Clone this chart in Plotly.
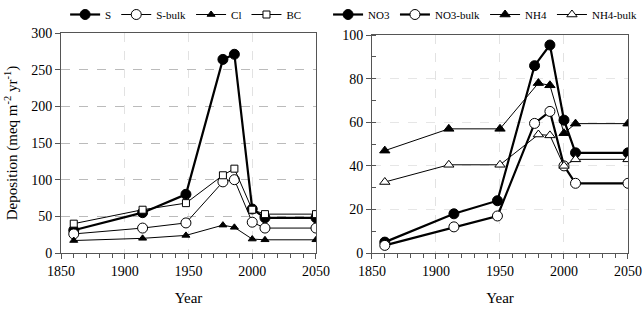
import plotly.graph_objects as go

# Left panel data
s_years = [1860, 1914, 1948, 1977, 1986, 2000, 2010, 2050]
S = [31, 55, 80, 264, 271, 60, 48, 48]
S_bulk = [26, 34, 41, 97, 100, 42, 34, 34]
Cl = [17, 20, 24, 38, 35, 19, 18, 18]
BC = [40, 59, 68, 106, 115, 59, 53, 53]

# Right panel data
no3_years = [1860, 1914, 1948, 1977, 1989, 2000, 2009, 2050]
NO3 = [5, 18, 24, 86, 95.5, 61, 46, 46]
NO3_bulk = [3.5, 12, 17, 59.5, 65, 40, 32, 32]
nh4_years = [1860, 1910, 1950, 1980, 1989, 2000, 2009, 2050]
NH4 = [47, 57, 57, 78, 77, 55, 59.4, 59.4]
NH4_bulk = [32.6, 40.5, 40.5, 54.4, 54, 40, 43, 43]

left_ticks = [0, 50, 100, 150, 200, 250, 300]
right_ticks = [0, 20, 40, 60, 80, 100]
x_ticks = [1850, 1900, 1950, 2000, 2050]

BLACK = "black"
fig = go.Figure()

def add(x, y, name, symbol, width, size, xa, ya, legend, fill=BLACK):
    fig.add_trace(go.Scatter(
        x=x, y=y, name=name, mode="lines+markers",
        line=dict(color=BLACK, width=width),
        marker=dict(symbol=symbol, size=size, color=fill,
                    line=dict(color=BLACK, width=1)),
        xaxis=xa, yaxis=ya, legend=legend))

add(s_years, S, "S", "circle", 2.2, 10, "x", "y", "legend")
add(s_years, S_bulk, "S-bulk", "circle", 1, 10, "x", "y", "legend", "white")
add(s_years, Cl, "Cl", "triangle-up", 1, 7, "x", "y", "legend")
add(s_years, BC, "BC", "square", 1, 7, "x", "y", "legend", "white")

add(no3_years, NO3, "NO3", "circle", 2.2, 10, "x2", "y2", "legend2")
add(no3_years, NO3_bulk, "NO3-bulk", "circle", 2.2, 10, "x2", "y2", "legend2", "white")
add(nh4_years, NH4, "NH4", "triangle-up", 1, 9, "x2", "y2", "legend2")
add(nh4_years, NH4_bulk, "NH4-bulk", "triangle-up", 1, 9, "x2", "y2", "legend2", "white")

FONT = "Liberation Serif"
axis_common = dict(showline=True, linecolor="#555", linewidth=1, mirror=True,
                   ticks="outside", ticklen=5, tickcolor="#555",
                   tickfont=dict(family=FONT, size=14, color="black"),
                   zeroline=False, automargin=False)

xcommon = dict(axis_common, range=[1850, 2050], tickvals=x_ticks,
               showgrid=True, gridcolor="#e2e2e2", griddash="dash", gridwidth=1,
               minor=dict(ticks="outside", ticklen=4, dtick=10, tick0=1850,
                          tickcolor="#555", showgrid=False),
               title=dict(text="Year", font=dict(family=FONT, size=15, color="black"),
                          standoff=14))

# plot region: x 61..628, y 33..253
fig.update_layout(
    width=644, height=311,
    margin=dict(l=61, r=16, t=33, b=58),
    paper_bgcolor="white", plot_bgcolor="white",
    font=dict(family=FONT, color="black"),
    xaxis=dict(xcommon, domain=[0, 0.4497], anchor="y"),
    yaxis=dict(axis_common, range=[0, 300], tickvals=left_ticks, domain=[0, 1],
               anchor="x", showgrid=True, gridcolor="#bbbbbb", griddash="dash",
               title=dict(text="Deposition (meq m<sup>-2</sup> yr<sup>-1</sup>)",
                          font=dict(family=FONT, size=15, color="black"), standoff=9)),
    xaxis2=dict(xcommon, domain=[0.5485, 1], anchor="y2"),
    yaxis2=dict(axis_common, range=[0, 100], tickvals=right_ticks, domain=[0, 0.99],
                anchor="x2", showgrid=True, gridcolor="#e6e6e6", griddash="dash",
                minor=dict(ticks="inside", ticklen=4, dtick=10, tickcolor="#555",
                           showgrid=False)),
    legend=dict(orientation="h", x=0.289, xanchor="center", y=1, yanchor="top",
                xref="container", yref="container",
                font=dict(family=FONT, size=11, color="black"),
                itemwidth=30, tracegroupgap=0, bgcolor="rgba(0,0,0,0)"),
    legend2=dict(orientation="h", x=0.997, xanchor="right", y=1, yanchor="top",
                 xref="container", yref="container",
                 font=dict(family=FONT, size=11, color="black"),
                 itemwidth=30, tracegroupgap=0, bgcolor="rgba(0,0,0,0)"),
    showlegend=True,
)

fig.write_html("out.html")
